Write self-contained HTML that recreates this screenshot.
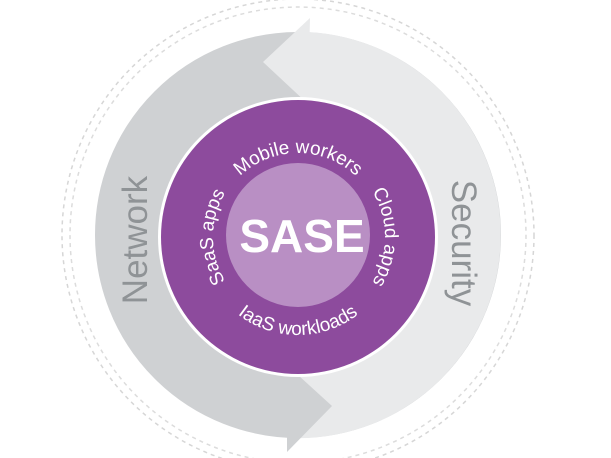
<!DOCTYPE html>
<html><head><style>html,body{margin:0;padding:0;background:#fff;}svg{display:block}</style></head>
<body>
<svg width="611" height="458" viewBox="0 0 611 458" xmlns="http://www.w3.org/2000/svg" font-family="Liberation Sans, sans-serif">
<defs>
<path id="top" d="M 214 237 A 84 84 0 0 1 382 237"/>
<path id="bot" d="M 200 237 A 98 98 0 0 0 396 237"/>
<path id="lft" d="M 298 322 A 85 85 0 0 1 298 152"/>
<path id="rgt" d="M 298 150 A 87 87 0 0 1 298 324"/>
</defs>
<circle cx="298" cy="235" r="236" fill="none" stroke="#d6d6d6" stroke-width="1.5" stroke-dasharray="4 4"/>
<circle cx="298" cy="235" r="228" fill="none" stroke="#dcdcdc" stroke-width="1.5" stroke-dasharray="4 4"/>
<circle cx="298" cy="235" r="170" fill="none" stroke="#cfd1d3" stroke-width="66"/>
<path d="M 308 32 A 203 203 0 0 1 287 438 L 287 372 A 137 137 0 0 0 308 98 Z" fill="#e9eaeb"/>
<polygon points="310,18 263,62 308,104" fill="#e9eaeb"/>
<polygon points="287,365 332,406 287,452" fill="#cfd1d3"/>
<circle cx="298" cy="237" r="140" fill="#fff"/>
<circle cx="298" cy="237" r="137" fill="#8d4b9d"/>
<circle cx="298" cy="235" r="72" fill="#b98fc4"/>
<text x="302" y="252" text-anchor="middle" font-size="46" font-weight="bold" fill="#fff">SASE</text>
<g fill="#fff" font-size="19">
<text><textPath href="#top" startOffset="50%" text-anchor="middle">Mobile workers</textPath></text>
<text><textPath href="#bot" startOffset="50%" text-anchor="middle">IaaS workloads</textPath></text>
<text><textPath href="#lft" startOffset="50%" text-anchor="middle">SaaS apps</textPath></text>
<text><textPath href="#rgt" startOffset="50%" text-anchor="middle">Cloud apps</textPath></text>
</g>
<text transform="translate(147,240) rotate(-90)" text-anchor="middle" font-size="35" fill="#8f9396">Network</text>
<text transform="translate(452,243) rotate(90)" text-anchor="middle" font-size="35" fill="#8f9396">Security</text>
</svg>
</body></html>
